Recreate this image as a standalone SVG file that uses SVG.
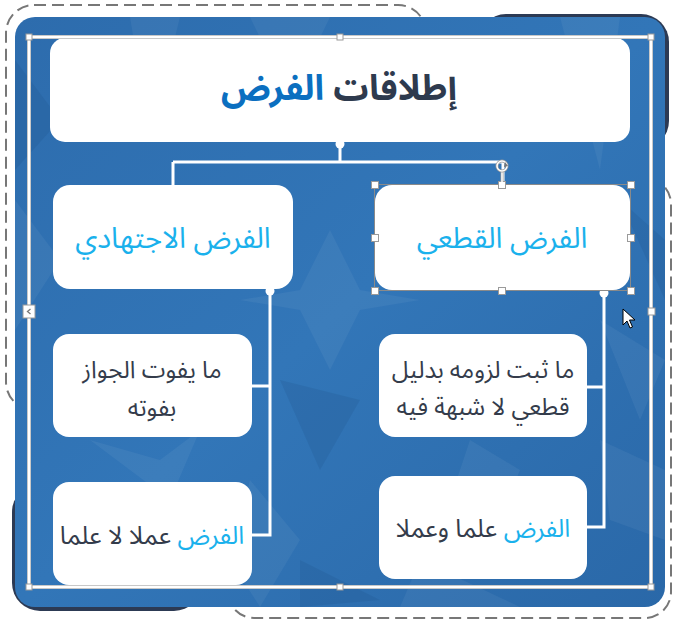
<svg xmlns="http://www.w3.org/2000/svg" width="676" height="625" viewBox="0 0 676 625">
<defs>
<linearGradient id="bg" x1="0" y1="0" x2="1" y2="1">
<stop offset="0" stop-color="#2d6cad"/>
<stop offset="0.5" stop-color="#3276b8"/>
<stop offset="1" stop-color="#2a68a8"/>
</linearGradient>
<clipPath id="panelClip"><rect x="15" y="17" width="650" height="590" rx="20"/></clipPath>
</defs>
<style>
.dash{fill:none;stroke:#777;stroke-width:2;stroke-dasharray:12 6}
.dark{fill:#2c3a54}
.box{fill:#fff}
.conn{fill:none;stroke:#fff;stroke-width:3}
.dot{fill:#fff}
.t{font-family:"Noto Sans Arabic","DejaVu Sans",sans-serif;direction:rtl}
.lb{fill:#1ab1ec}
.dk{fill:#343c4b}
.hd{fill:#fff;stroke:#9a9a9a;stroke-width:1}
.pat{fill:#fff;opacity:0.05}
.patd{fill:#1c4f88;opacity:0.2}
</style>
<!-- decorative back shapes -->
<rect class="dash" x="6" y="5" width="420" height="405" rx="28"/>
<rect class="dash" x="228" y="178" width="443" height="440" rx="26"/>
<rect class="dark" x="478" y="14" width="191" height="135" rx="28"/>
<rect class="dark" x="12" y="484" width="190" height="127" rx="28"/>
<rect x="15" y="17" width="650" height="590" rx="20" fill="url(#bg)"/>
<g clip-path="url(#panelClip)">
<polygon class="pat" points="130,17 180,17 150,140"/>
<polygon class="pat" points="250,17 330,17 290,100"/>
<polygon class="pat" points="560,17 620,17 600,170"/>
<polygon class="pat" points="15,200 60,260 15,330"/>
<polygon class="pat" points="330,230 360,290 420,300 360,310 330,370 300,310 240,300 300,290"/>
<polygon class="pat" points="600,320 665,360 640,420"/>
<polygon class="pat" points="470,440 520,470 500,520 450,500"/>
<polygon class="pat" points="90,440 160,460 200,430 170,500"/>
<polygon class="pat" points="250,480 300,540 260,607 230,560"/>
<polygon class="pat" points="600,440 665,470 665,540 610,520"/>
<polygon class="pat" points="420,560 520,607 400,607"/>
<polygon class="patd" points="15,60 60,120 15,170"/>
<polygon class="patd" points="280,380 360,400 320,470"/>
<polygon class="patd" points="620,200 665,240 665,300"/>
<polygon class="patd" points="300,560 380,600 300,607"/>
</g>
<!-- connectors -->
<g id="connectors">
<path class="conn" d="M340 142 V162 M173 162 H503 M173 162 V186 M503 162 V186"/>
<path class="conn" d="M270 290 V535 H251 M270 386 H251"/>
<path class="conn" d="M604 292 V527 H586 M604 387 H586"/>
<circle class="dot" cx="340" cy="144" r="4.5"/>
<circle class="dot" cx="270" cy="291" r="4.5"/>
<circle class="dot" cx="604" cy="293" r="4.5"/>
</g>
<!-- nodes -->
<g id="title">
<rect class="box" x="50" y="38" width="580" height="104" rx="15"/>
<text class="t" x="339" y="100" font-size="35" font-weight="bold" text-anchor="middle"><tspan fill="#2e3a4e">إطلاقات </tspan><tspan fill="#0b6fc0">الفرض</tspan></text>
</g>
<g id="ijtihadi">
<rect class="box" x="53" y="185" width="240" height="104" rx="17"/>
<text class="t lb" x="173" y="248" font-size="29" text-anchor="middle">الفرض الاجتهادي</text>
</g>
<g id="qatei">
<rect class="box" x="375" y="185" width="255" height="105" rx="17"/>
<text class="t lb" x="502" y="248" font-size="29" text-anchor="middle">الفرض القطعي</text>
</g>
<g id="left1">
<rect class="box" x="53" y="334" width="199" height="103" rx="16"/>
<text class="t dk" x="152" y="378" font-size="24" text-anchor="middle">ما يفوت الجواز</text>
<text class="t dk" x="152" y="416" font-size="24" text-anchor="middle">بفوته</text>
</g>
<g id="left2">
<rect class="box" x="53" y="482" width="199" height="103" rx="16"/>
<text class="t" x="152" y="544" font-size="25" text-anchor="middle"><tspan class="lb">الفرض </tspan><tspan class="dk">عملا لا علما</tspan></text>
</g>
<g id="right1">
<rect class="box" x="379" y="334" width="208" height="103" rx="16"/>
<text class="t dk" x="483" y="378" font-size="24" text-anchor="middle">ما ثبت لزومه بدليل</text>
<text class="t dk" x="483" y="415" font-size="24" text-anchor="middle">قطعي لا شبهة فيه</text>
</g>
<g id="right2">
<rect class="box" x="379" y="476" width="208" height="103" rx="16"/>
<text class="t" x="483" y="537" font-size="25" text-anchor="middle"><tspan class="lb">الفرض </tspan><tspan class="dk">علما وعملا</tspan></text>
</g>
<!-- selection frame -->
<g id="selection">
<rect x="29" y="37" width="622" height="550" fill="none" stroke="#c8c8c8" stroke-width="4"/>
<rect x="29" y="37" width="622" height="550" fill="none" stroke="#fff" stroke-width="2"/>
<rect class="hd" x="26" y="34" width="6" height="6"/>
<rect class="hd" x="337" y="34" width="6" height="6"/>
<rect class="hd" x="648" y="34" width="6" height="6"/>
<rect class="hd" x="26" y="584" width="6" height="6"/>
<rect class="hd" x="337" y="584" width="6" height="6"/>
<rect class="hd" x="648" y="584" width="6" height="6"/>
<rect class="hd" x="648" y="308" width="7" height="7"/>
<rect class="hd" x="23" y="305" width="12" height="13"/>
<path d="M30.5 309 L27.5 311.5 L30.5 314" fill="none" stroke="#777" stroke-width="1.3"/>
<rect x="374.5" y="184.5" width="256" height="106" fill="none" stroke="#8a8a8a" stroke-width="1"/>
<rect class="hd" x="371.5" y="181.5" width="7" height="7"/>
<rect class="hd" x="498.5" y="181.5" width="7" height="7"/>
<rect class="hd" x="627.5" y="181.5" width="7" height="7"/>
<rect class="hd" x="371.5" y="234.5" width="7" height="7"/>
<rect class="hd" x="627.5" y="234.5" width="7" height="7"/>
<rect class="hd" x="371.5" y="287.5" width="7" height="7"/>
<rect class="hd" x="498.5" y="287.5" width="7" height="7"/>
<rect class="hd" x="627.5" y="287.5" width="7" height="7"/>
<path d="M502 171 V182" stroke="#9a9a9a" stroke-width="3"/>
<path d="M502 171 V182" stroke="#fff" stroke-width="1.5"/>
<circle cx="502" cy="166" r="5" fill="none" stroke="#9a9a9a" stroke-width="3"/>
<circle cx="502" cy="166" r="5" fill="none" stroke="#fff" stroke-width="1.5"/>
<path d="M505 162 L508 166 L504 167 Z" fill="#777"/>
</g>
<path d="M623 309 L623 325 L627 321 L630 328 L632.5 327 L629.5 320 L635 320 Z" fill="#fff" stroke="#000" stroke-width="1"/>
</svg>
